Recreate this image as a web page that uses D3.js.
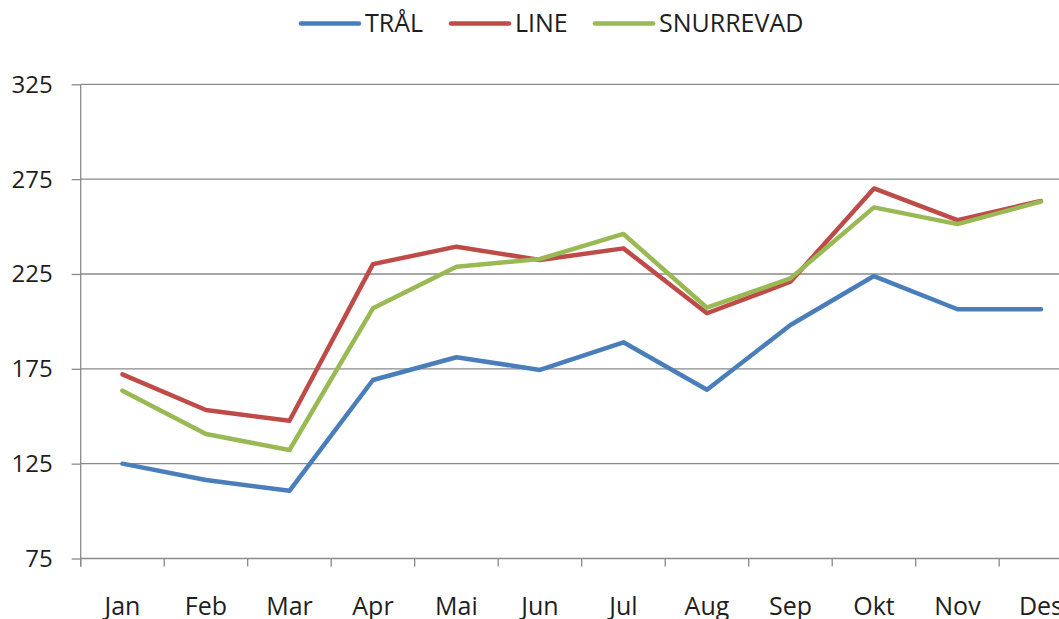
<!DOCTYPE html>
<html><head><meta charset="utf-8">
<script src="https://cdn.jsdelivr.net/npm/d3@7"></script>
<style>
body{margin:0;background:#fff;}
svg{display:block;font-family:"Open Sans", sans-serif;}
</style></head><body>
<svg id="c" width="1059" height="619"></svg>
<script>
const months = ["Jan","Feb","Mar","Apr","Mai","Jun","Jul","Aug","Sep","Okt","Nov","Des"];
const tral = [125, 116.4, 110.7, 169.1, 181.1, 174.4, 189, 164, 198.1, 223.9, 206.4, 206.4];
const line = [172.1, 153.3, 147.6, 230.2, 239.4, 232.4, 238.5, 204.3, 220.9, 270.1, 253.4, 263.5];
const snurrevad = [163.5, 140.6, 132.2, 206.9, 228.8, 232.9, 246.1, 207.2, 222.7, 260.1, 251.3, 263.2];
const yTicks = [75, 125, 175, 225, 275, 325];
const seriesNames = ["TRÅL","LINE","SNURREVAD"];
const seriesColors = ["#4a7ebb","#be4b48","#98b954"];
const seriesData = [tral, line, snurrevad];

const svg = d3.select("#c");
const W = 1059, H = 619;
const x = d3.scaleBand().domain(months).range([80.7, 1082.7]).padding(0);
const y = d3.scaleLinear().domain([75, 325]).range([558.5, 84.3]);
const gridColor = "#8a8a8a";
const textColor = "#1e1e1e";

// gridlines
svg.append("g").selectAll("line").data(yTicks.filter(t => t !== 75)).join("line")
  .attr("x1", 80.7).attr("x2", W).attr("y1", d => y(d)).attr("y2", d => y(d))
  .attr("stroke", gridColor).attr("stroke-width", 1.3);

// y axis
const yAxis = svg.append("g").attr("transform", "translate(80.7,0)")
  .call(d3.axisLeft(y).tickValues(yTicks).tickSize(9).tickPadding(19).tickFormat(d3.format("d")));
yAxis.select(".domain").attr("stroke", gridColor).attr("stroke-width", 1.3).attr("d", `M0,${y(325)}V${y(75)+8}`);
yAxis.selectAll(".tick line").attr("stroke", gridColor).attr("stroke-width", 1.3);
yAxis.selectAll(".tick text").attr("font-size", 24).attr("fill", textColor)
  .attr("font-family", "'Open Sans', sans-serif").attr("dy", "0.33em");

// x axis
const bounds = months.map(m => x(m)).concat([x(months[11]) + x.bandwidth()]);
const xg = svg.append("g");
xg.append("line").attr("x1", 80.7).attr("x2", W).attr("y1", y(75)).attr("y2", y(75))
  .attr("stroke", gridColor).attr("stroke-width", 1.3);
xg.selectAll("line.tk").data(bounds).join("line").attr("class","tk")
  .attr("x1", d => d).attr("x2", d => d).attr("y1", y(75)).attr("y2", y(75) + 8)
  .attr("stroke", gridColor).attr("stroke-width", 1.3);
xg.selectAll("text").data(months).join("text")
  .attr("x", d => x(d) + x.bandwidth() / 2).attr("y", 615)
  .attr("text-anchor", "middle").attr("font-size", 25).attr("fill", textColor)
  .text(d => d);

// lines
const lineGen = d3.line().x((d, i) => x(months[i]) + x.bandwidth() / 2).y(d => y(d));
seriesData.forEach((s, k) => {
  svg.append("path").datum(s).attr("d", lineGen).attr("fill", "none")
    .attr("stroke", seriesColors[k]).attr("stroke-width", 4.5)
    .attr("stroke-linejoin", "round").attr("stroke-linecap", "round");
});

// legend
const legX = [301, 451, 595];
const lg = svg.append("g");
seriesNames.forEach((n, k) => {
  lg.append("line").attr("x1", legX[k]).attr("x2", legX[k] + 58).attr("y1", 23.5).attr("y2", 23.5)
    .attr("stroke", seriesColors[k]).attr("stroke-width", 4.5).attr("stroke-linecap", "round");
  lg.append("text").attr("x", legX[k] + 64).attr("y", 32).attr("font-size", 25).attr("fill", textColor).text(n);
});
</script>
</body></html>
